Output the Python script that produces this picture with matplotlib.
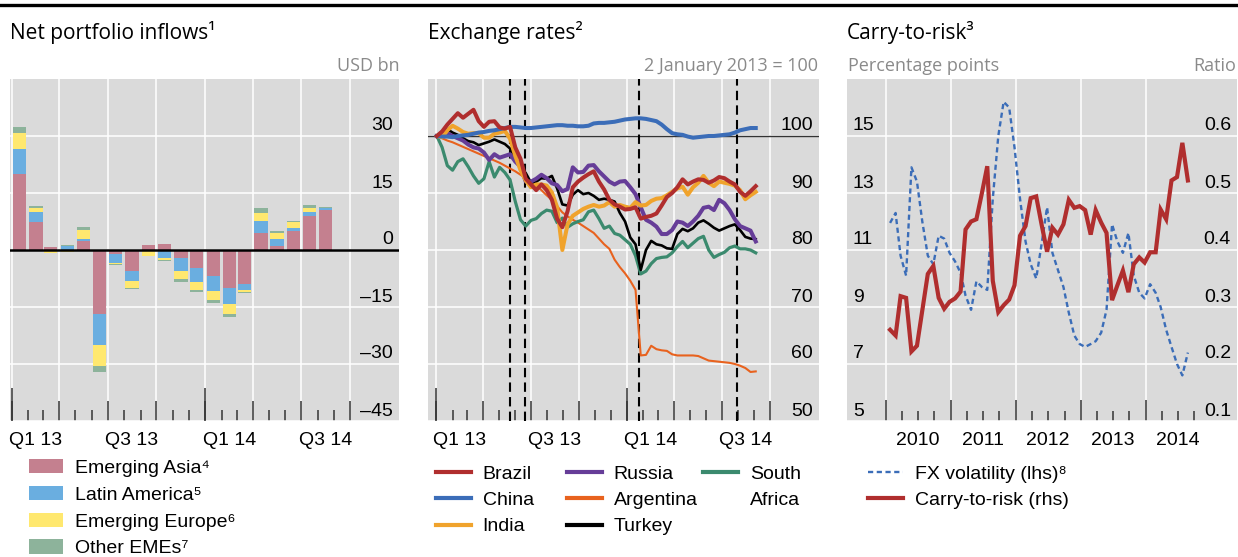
import numpy as np
import pandas as pd
import matplotlib
matplotlib.use("Agg")
import matplotlib.pyplot as plt
import matplotlib.dates as mdates
from matplotlib.lines import Line2D
from matplotlib.patches import Patch
from matplotlib.transforms import ScaledTranslation

# ---- net portfolio inflows, USD bn, monthly Jan 2013 - Aug 2014
flow_months = pd.date_range("2013-01-01", periods=20, freq="MS")
em_asia = [20.0, 7.5, 0.7, 0.0, 2.5, -16.8, -1.0, -5.6, 1.2, 1.7,
           -2.1, -4.8, -6.9, -9.9, -8.9, 4.6, 1.0, 4.9, 8.9, 10.6]
lat_am = [6.6, 2.4, 0.0, 1.0, 0.3, -8.1, -2.4, -2.6, 0.0, -2.1,
          -3.5, -3.7, -3.9, -4.4, -1.6, 3.1, 2.0, 0.8, 1.2, 0.4]
em_europe = [4.2, 1.1, -0.9, -0.4, 2.4, -5.5, -0.4, -1.7, -1.6, -0.5,
             -2.1, -2.1, -2.4, -2.6, -0.6, 2.1, 1.6, 1.6, 1.0, 0.0]
other_emes = [1.6, 0.7, 0.0, 0.3, 0.8, -1.7, -0.2, -0.3, 0.0, -0.3,
              -0.8, -0.5, -0.7, -0.7, -0.3, 1.3, 0.5, 0.3, 0.8, 0.3]
flow_labels = ["Emerging Asia\u2074", "Latin America\u2075",
               "Emerging Europe\u2076", "Other EMEs\u2077"]

# ---- exchange rates, 2 January 2013 = 100
fx_dates = pd.date_range("2013-01-02", periods=62, freq="10D")
brazil = [100.0, 100.8, 102.0, 103.0, 104.0, 103.2, 103.9, 104.6, 102.6, 101.6,
          102.5, 102.6, 101.5, 101.3, 101.6, 98.0, 96.0, 92.5, 91.5, 90.5,
          91.5, 90.5, 88.8, 85.5, 84.0, 86.8, 91.0, 92.0, 92.7, 93.3,
          93.8, 92.0, 90.6, 88.8, 88.0, 87.6, 87.1, 87.2, 87.5, 85.5,
          85.8, 86.0, 86.4, 87.8, 89.3, 90.0, 91.0, 92.4, 91.5, 92.0,
          92.4, 92.3, 91.8, 92.2, 92.8, 92.6, 92.0, 91.5, 90.2, 89.5,
          90.3, 91.2]
china = [100.0, 99.9, 99.9, 99.8, 100.0, 100.1, 100.2, 100.4, 100.6, 100.7,
         100.9, 101.0, 101.2, 101.4, 101.6, 101.6, 101.5, 101.4, 101.4, 101.5,
         101.6, 101.7, 101.8, 101.9, 101.9, 101.8, 101.8, 101.7, 101.7, 101.8,
         102.2, 102.3, 102.3, 102.4, 102.5, 102.7, 102.9, 103.0, 103.1, 103.1,
         103.0, 102.8, 102.6, 102.0, 101.2, 100.5, 100.3, 100.2, 99.9, 99.7,
         99.8, 99.9, 100.0, 100.0, 100.1, 100.2, 100.3, 100.6, 101.0, 101.2,
         101.4, 101.4]
india = [100.0, 99.8, 101.0, 101.8, 101.3, 100.7, 100.4, 100.5, 100.5, 99.7,
         99.7, 100.4, 100.6, 100.9, 99.5, 96.5, 94.0, 92.2, 91.0, 91.5,
         91.5, 91.3, 90.1, 87.5, 80.0, 84.5, 86.0, 86.6, 87.2, 87.6,
         87.9, 87.6, 87.8, 88.4, 87.6, 87.9, 87.6, 87.4, 88.4, 87.8,
         87.9, 88.6, 89.0, 89.1, 89.6, 90.2, 90.8, 91.1, 89.7, 91.0,
         91.8, 93.0, 91.8, 91.2, 92.0, 91.8, 91.6, 91.3, 90.5, 88.9,
         89.6, 90.2]
russia = [100.0, 100.4, 100.5, 100.0, 99.6, 99.2, 98.5, 98.0, 97.8, 97.1,
          95.8, 96.8, 96.2, 96.5, 96.8, 95.5, 94.6, 92.0, 92.0, 92.5,
          93.2, 92.6, 91.7, 91.4, 90.3, 90.7, 94.5, 93.6, 93.7, 94.8,
          94.9, 93.8, 92.9, 92.0, 91.5, 92.0, 92.1, 91.0, 89.8, 87.5,
          85.3, 84.8, 84.1, 82.8, 82.8, 83.5, 85.0, 84.8, 84.2, 85.0,
          86.0, 87.4, 87.6, 87.0, 88.8, 88.2, 87.0, 85.4, 84.2, 83.8,
          83.4, 81.5]
argentina = [100.0, 99.6, 99.2, 98.9, 98.5, 98.1, 97.7, 97.3, 96.9, 96.5,
             96.1, 95.7, 95.3, 94.8, 94.3, 93.8, 93.2, 92.6, 92.0, 91.4,
             90.5, 89.6, 88.8, 87.7, 86.6, 85.9, 85.3, 84.8, 84.2, 83.6,
             83.0, 82.0, 81.0, 80.2, 78.3, 77.0, 75.9, 74.6, 73.0, 61.5,
             61.6, 63.2, 62.6, 62.4, 62.3, 61.7, 61.5, 61.5, 61.5, 61.5,
             61.4, 61.0, 60.6, 60.5, 60.4, 60.3, 60.2, 60.0, 59.7, 59.3,
             58.6, 58.7]
turkey = [100.0, 100.8, 101.2, 100.6, 100.2, 99.6, 99.1, 98.9, 98.4, 98.7,
          99.0, 99.4, 99.0, 98.6, 97.8, 95.8, 94.6, 93.5, 91.8, 92.0,
          92.6, 92.5, 93.0, 90.8, 88.0, 87.8, 89.7, 90.5, 89.8, 90.0,
          89.5, 88.8, 89.0, 88.8, 88.5, 86.5, 85.0, 82.2, 81.0, 76.5,
          80.0, 81.6, 81.0, 80.8, 80.3, 80.2, 82.8, 83.7, 83.3, 83.8,
          84.8, 85.2, 84.6, 83.9, 83.4, 83.8, 84.2, 84.5, 83.5, 82.3,
          82.0, 81.9]
south_africa = [100.0, 98.0, 94.8, 94.0, 95.5, 96.0, 94.6, 93.0, 91.7, 92.5,
                95.5, 92.8, 94.5, 93.6, 92.3, 88.5, 85.3, 84.2, 85.2, 85.5,
                86.4, 87.0, 86.8, 84.8, 85.6, 84.0, 84.6, 85.0, 85.3, 86.7,
                87.0, 85.5, 83.8, 84.2, 82.9, 82.6, 81.8, 81.0, 79.0, 75.8,
                76.3, 77.6, 78.5, 78.7, 78.8, 79.5, 80.6, 81.5, 80.4, 81.2,
                82.0, 82.4, 80.0, 78.7, 79.2, 79.6, 80.4, 80.7, 80.2, 80.2,
                80.0, 79.5]
event_dates = ["2013-05-22", "2013-06-19", "2014-01-23", "2014-07-30"]

# ---- carry-to-risk, monthly Jan 2010 - Aug 2014
ctr_dates = pd.date_range("2010-01-01", periods=56, freq="MS") + pd.Timedelta(days=24)
fx_vol = [11.95, 12.3, 10.8, 10.1, 13.9, 13.4, 12.0, 10.8, 10.5, 11.5,
          11.4, 10.9, 10.6, 10.2, 9.4, 8.9, 9.9, 9.7, 9.6, 12.8,
          15.0, 16.2, 16.0, 14.6, 12.8, 11.3, 10.5, 10.0, 11.2, 12.5,
          10.9, 10.3, 9.7, 8.8, 8.0, 7.7, 7.6, 7.7, 7.8, 8.1,
          8.9, 11.9, 11.3, 10.9, 11.6, 10.1, 9.5, 9.3, 9.8, 9.5,
          9.0, 8.2, 7.6, 7.0, 6.6, 7.4]
carry_to_risk = [0.260, 0.250, 0.319, 0.316, 0.222, 0.232, 0.294, 0.358, 0.372, 0.316,
                 0.297, 0.309, 0.315, 0.327, 0.436, 0.450, 0.454, 0.500, 0.547, 0.346,
                 0.291, 0.303, 0.313, 0.338, 0.425, 0.442, 0.491, 0.494, 0.445, 0.397,
                 0.439, 0.427, 0.445, 0.488, 0.474, 0.477, 0.470, 0.427, 0.470, 0.448,
                 0.430, 0.312, 0.338, 0.364, 0.326, 0.375, 0.387, 0.378, 0.396, 0.396,
                 0.471, 0.454, 0.522, 0.528, 0.588, 0.522]

W, H = 1238, 557
BG = "#dadada"
TICK = "#333333"
GREY = "#8a8a8a"
SANS = ["Liberation Sans", "DejaVu Sans"]
TITLE = ["Open Sans", "DejaVu Sans"]
plt.rcParams["font.family"] = SANS
plt.rcParams["font.size"] = 14

fig = plt.figure(figsize=(W / 100, H / 100), dpi=100)


def px_axes(x0, y0, x1, y1):
    return fig.add_axes([x0 / W, 1 - y1 / H, (x1 - x0) / W, (y1 - y0) / H])


def base_style(ax, yticks, ylim):
    ax.set_facecolor(BG)
    for s in ax.spines.values():
        s.set_visible(False)
    ax.set_ylim(*ylim)
    ax.set_yticks(yticks)
    ax.tick_params(axis="y", length=0, labelleft=False, labelright=False)
    ax.grid(True, which="major", color="white", lw=1.1)
    ax.set_axisbelow(True)


def time_axis(ax, major, minor, major_len, minor_len, long=None, long_len=0):
    ax.set_xticks(mdates.date2num(pd.to_datetime(major)))
    ax.set_xticks(mdates.date2num(pd.to_datetime(minor)), minor=True)
    ax.tick_params(axis="x", which="major", direction="in", length=major_len * 0.72,
                   width=1.1, color=TICK, labelbottom=False)
    ax.tick_params(axis="x", which="minor", direction="in", length=minor_len * 0.72,
                   width=1.1, color=TICK, labelbottom=False)
    if long is not None:
        ax.vlines(mdates.date2num(pd.to_datetime(long)), 0, long_len / 342,
                  transform=ax.get_xaxis_transform(), color=TICK, lw=1.1, zorder=1.2)


def x_labels(ax, dates, labels):
    for d, lab in zip(mdates.date2num(pd.to_datetime(dates)), labels):
        ax.text(d, -0.058, lab, transform=ax.get_xaxis_transform(),
                ha="center", va="center", fontsize=14)


def y_labels(ax, ticks, labels, side="right"):
    if side == "right":
        x, ha, dx = 1, "right", -6
    else:
        x, ha, dx = 0, "left", 6
    tr = ax.get_yaxis_transform() + ScaledTranslation(dx / 100, 5.5 / 100, fig.dpi_scale_trans)
    for t, lab in zip(ticks, labels):
        ax.text(x, t, lab, transform=tr, ha=ha, va="baseline", fontsize=14)


def legend(handles, labels, x, y, **kw):
    leg = fig.legend(handles, labels, loc="upper left", bbox_to_anchor=(x / W, 1 - y / H),
                     frameon=False, borderpad=0, borderaxespad=0, fontsize=14,
                     handletextpad=0.6, labelspacing=0.45, **kw)
    return leg


quarters = pd.date_range("2013-01-01", "2014-10-01", freq="QS")
months = [m for m in pd.date_range("2013-01-01", "2014-10-01", freq="MS") if m not in quarters]
q_labels_at = pd.to_datetime(["2013-02-15", "2013-08-15", "2014-02-15", "2014-08-15"])
q_labels = ["Q1 13", "Q3 13", "Q1 14", "Q3 14"]

# ---------------- panel 1: net portfolio inflows
ax1 = px_axes(10, 79, 399, 421)
base_style(ax1, [-45, -30, -15, 0, 15, 30], (-45, 45))
ax1.set_xlim(mdates.date2num(pd.Timestamp("2012-12-29")), mdates.date2num(pd.Timestamp("2015-01-01")))
time_axis(ax1, quarters, months, 20, 11, long=["2013-01-01", "2014-01-01"], long_len=33)

bar_x = mdates.date2num(flow_months + pd.Timedelta(days=15))
flow_colors = ["#c4808f", "#6aaee0", "#ffe86f", "#8db39b"]
pos_base = np.zeros(len(bar_x))
neg_base = np.zeros(len(bar_x))
for vals, col in zip([em_asia, lat_am, em_europe, other_emes], flow_colors):
    v = np.array(vals)
    bottom = np.where(v >= 0, pos_base, neg_base)
    ax1.bar(bar_x, v, width=25, bottom=bottom, color=col, zorder=2)
    pos_base += np.clip(v, 0, None)
    neg_base += np.clip(v, None, 0)
ax1.axhline(0, color="black", lw=1.8, zorder=3)
y_labels(ax1, [-45, -30, -15, 0, 15, 30], ["\u201345", "\u201330", "\u201315", "0", "15", "30"])
x_labels(ax1, q_labels_at, q_labels)

# ---------------- panel 2: exchange rates
ax2 = px_axes(428, 79, 819, 421)
base_style(ax2, [50, 60, 70, 80, 90, 100], (50, 110))
ax2.set_xlim(mdates.date2num(pd.Timestamp("2012-12-16")), mdates.date2num(pd.Timestamp("2015-01-03")))
time_axis(ax2, quarters, months, 20, 11, long=["2013-01-01", "2014-01-01"], long_len=33)
ax2.axhline(100, color="#333333", lw=1.0, zorder=1.5)
for d in event_dates:
    ax2.axvline(mdates.date2num(pd.Timestamp(d)), color="black", lw=1.5,
                ls=(0, (4.5, 2.5)), zorder=1.6)

fx_x = mdates.date2num(fx_dates)
fx_series = [
    ("Argentina", argentina, "#e8621e", 1.5),
    ("South Africa", south_africa, "#3b8a6e", 2.3),
    ("Turkey", turkey, "black", 1.9),
    ("Russia", russia, "#663d98", 2.9),
    ("India", india, "#f0a32c", 2.9),
    ("China", china, "#3b6db8", 2.9),
    ("Brazil", brazil, "#b02e2e", 2.9),
]
fx_lines = {}
for name, vals, col, lw in fx_series:
    fx_lines[name], = ax2.plot(fx_x, vals, color=col, lw=lw, zorder=2, solid_joinstyle="round")
y_labels(ax2, [50, 60, 70, 80, 90, 100], ["50", "60", "70", "80", "90", "100"])
x_labels(ax2, q_labels_at, q_labels)

# ---------------- panel 3: carry-to-risk
ax3 = px_axes(847, 79, 1237, 421)
base_style(ax3, [5, 7, 9, 11, 13, 15], (5, 17))
ax3.set_xlim(mdates.date2num(pd.Timestamp("2009-05-28")), mdates.date2num(pd.Timestamp("2015-05-28")))
years = pd.date_range("2010-01-01", "2014-01-01", freq="YS")
yq = [q for q in pd.date_range("2010-01-01", "2014-10-01", freq="QS") if q not in years]
time_axis(ax3, years, yq, 21, 10)
ctr_x = mdates.date2num(ctr_dates)
VOL_LS = (0, (2.2, 1.5))
vol_line, = ax3.plot(ctr_x, fx_vol, color="#3b6db8", lw=1.7, ls=VOL_LS, zorder=2)
ax3b = ax3.twinx()
ax3b.set_ylim(0.1, 0.7)
ax3b.set_yticks([])
for s in ax3b.spines.values():
    s.set_visible(False)
ctr_line, = ax3b.plot(ctr_x, carry_to_risk, color="#b02e2e", lw=3.0, zorder=3,
                      solid_joinstyle="miter")
y_labels(ax3, [5, 7, 9, 11, 13, 15], ["5", "7", "9", "11", "13", "15"], side="left")
y_labels(ax3b, [0.1, 0.2, 0.3, 0.4, 0.5, 0.6], ["0.1", "0.2", "0.3", "0.4", "0.5", "0.6"])
x_labels(ax3, pd.date_range("2010-07-01", "2014-07-01", freq="12MS"),
         ["2010", "2011", "2012", "2013", "2014"])

# ---------------- titles, units, rule
fig.add_artist(Line2D([0, 1], [1 - 4.5 / H] * 2, color="black", lw=2.4))
for x, t in [(10, "Net portfolio inflows\u00b9"), (428, "Exchange rates\u00b2"),
             (847, "Carry-to-risk\u00b3")]:
    fig.text(x / W, 1 - 32 / H, t, ha="left", va="center", fontsize=15, family=TITLE)
for x, t, ha in [(400, "USD bn", "right"), (818, "2 January 2013 = 100", "right"),
                 (848, "Percentage points", "left"), (1236, "Ratio", "right")]:
    fig.text(x / W, 1 - 66 / H, t, ha=ha, va="center", fontsize=13, color=GREY, family=TITLE)

# ---------------- legends
patches = [Patch(facecolor=c, edgecolor="none") for c in flow_colors]
legend(patches, flow_labels, 29, 459, handlelength=1.75, handleheight=0.77)

def lh(name):
    l = fx_lines[name]
    return Line2D([], [], color=l.get_color(), lw=3)

blank = Line2D([], [], alpha=0)
legend([lh("Brazil"), lh("China"), lh("India")], ["Brazil", "China", "India"],
       436, 465, handlelength=1.8)
legend([lh("Russia"), lh("Argentina"), lh("Turkey")], ["Russia", "Argentina", "Turkey"],
       567, 465, handlelength=1.8)
legend([lh("South Africa"), blank], ["South", "Africa"], 703, 465, handlelength=1.8)
legend([Line2D([], [], color="#3b6db8", lw=1.7, ls=VOL_LS),
        Line2D([], [], color="#b02e2e", lw=3)],
       ["FX volatility (lhs)\u2078", "Carry-to-risk (rhs)"], 868, 465, handlelength=1.8)

fig.savefig("out.png", dpi=100)
